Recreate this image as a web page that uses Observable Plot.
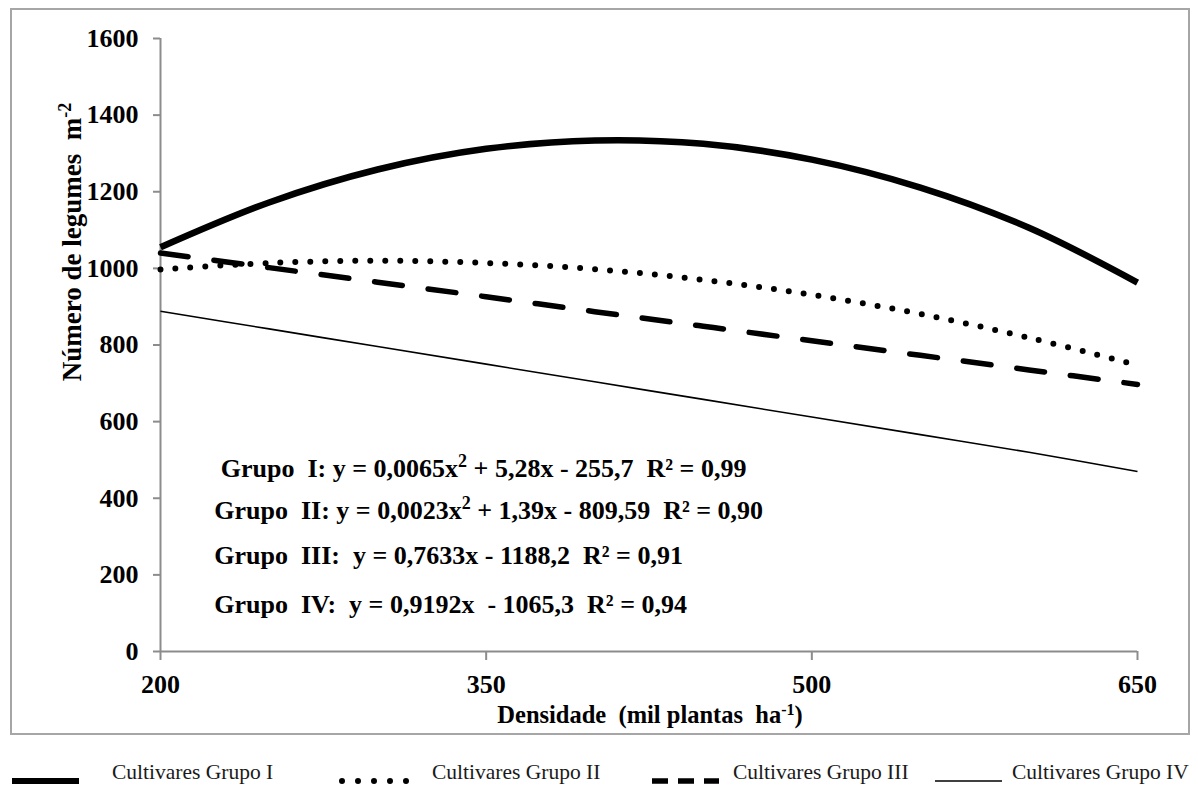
<!DOCTYPE html>
<html>
<head>
<meta charset="utf-8">
<script src="https://cdn.jsdelivr.net/npm/d3@7"></script>
<script src="https://cdn.jsdelivr.net/npm/@observablehq/plot@0.6"></script>
<style>
  html, body { margin: 0; padding: 0; background: #fff; }
  #wrap { position: relative; width: 1198px; height: 787px; overflow: hidden; }
  #box { position: absolute; left: 10px; top: 8px; width: 1176px; height: 723px; border: 2px solid #a6a6a6; }
  #chart { position: absolute; left: 0; top: 0; }
  #legend { position: absolute; left: 0; top: 735px; }
  svg text { font-family: "Liberation Serif", "Times New Roman", serif !important; }
</style>
</head>
<body>
<div id="wrap">
  <div id="box"></div>
  <div id="chart"></div>
  <svg id="legend" width="1198" height="52"></svg>
</div>
<script>
// ---- data ----
const densidade = [200, 250, 300, 350, 400, 450, 500, 550, 600, 650];
const grupoI   = [1055, 1172, 1258, 1312, 1334, 1325, 1284, 1211, 1106, 963];
const grupoII  = [997, 1014, 1020, 1014, 998, 970, 931, 881, 819, 747];
const grupoIII = [1040, 1002, 964, 926, 887, 849, 811, 773, 735, 697];
const grupoIV  = [888, 842, 796, 750, 704, 658, 612, 566, 520, 470];
const seriesNames = ["Cultivares Grupo I", "Cultivares Grupo II", "Cultivares Grupo III", "Cultivares Grupo IV"];
const xTicks = [200, 350, 500, 650];
const yTicks = [0, 200, 400, 600, 800, 1000, 1200, 1400, 1600];
const equations = [
  [["Grupo  I: y = 0,0065x"], ["2", "sup"], [" + 5,28x - 255,7  R² = 0,99"]],
  [["Grupo  II: y = 0,0023x"], ["2", "sup"], [" + 1,39x - 809,59  R² = 0,90"]],
  [["Grupo  III:  y = 0,7633x - 1188,2  R² = 0,91"]],
  [["Grupo  IV:  y = 0,9192x  - 1065,3  R² = 0,94"]]
];
const eqX = [228, 225, 225, 225];
const eqY = [478, 368, 250, 123];
const yTitle = [["Número de legumes  m"], ["-2", "sup"]];
const xTitle = [["Densidade  (mil plantas  ha"], ["-1", "sup"], [")"]];

const styles = [
  {strokeWidth: 6.5, strokeDasharray: null, strokeLinecap: "butt"},
  {strokeWidth: 6, strokeDasharray: "0 15", strokeLinecap: "round"},
  {strokeWidth: 5.5, strokeDasharray: "28 26", strokeLinecap: "round"},
  {strokeWidth: 1.6, strokeDasharray: null, strokeLinecap: "butt"}
];
const allSeries = [grupoI, grupoII, grupoIII, grupoIV];
const rows = [];
allSeries.forEach((s, k) => s.forEach((v, i) => rows.push({x: densidade[i], y: v, g: seriesNames[k]})));

const lineMarks = seriesNames.map((name, k) =>
  Plot.line(rows.filter(r => r.g === name), {
    x: "x", y: "y", stroke: "black", curve: "catmull-rom",
    strokeWidth: styles[k].strokeWidth,
    strokeDasharray: styles[k].strokeDasharray,
    strokeLinecap: styles[k].strokeLinecap
  })
);

const plot = Plot.plot({
  width: 1198,
  height: 735,
  marginLeft: 160,
  marginRight: 61,
  marginTop: 38,
  marginBottom: 84,
  style: {fontFamily: '"Liberation Serif", serif', fontSize: "26px", fontWeight: "bold", color: "black", background: "transparent"},
  x: {domain: [200, 650]},
  y: {domain: [0, 1600]},
  marks: [
    Plot.axisY({ticks: yTicks, tickSize: 7, tickPadding: 15, stroke: "#8c8c8c", strokeWidth: 2, fill: "black", label: null, tickFormat: d => String(d)}),
    Plot.axisX({ticks: xTicks, tickSize: 9, tickPadding: 14, stroke: "#8c8c8c", strokeWidth: 2, fill: "black", label: null, tickFormat: d => String(d)}),
    Plot.ruleX([200], {stroke: "#8c8c8c", strokeWidth: 2}),
    Plot.ruleY([0], {stroke: "#8c8c8c", strokeWidth: 2}),
    ...lineMarks
  ]
});
document.getElementById("chart").appendChild(plot);

const svg = d3.select(plot);
const sx = plot.scale("x"), sy = plot.scale("y");

function richText(sel, parts, supSize) {
  parts.forEach(p => {
    const t = sel.append("tspan").text(p[0]);
    if (p[1] === "sup") {
      t.attr("baseline-shift", "super").attr("font-size", supSize);
    }
  });
}

// equations
equations.forEach((parts, i) => {
  const t = svg.append("text")
    .attr("x", sx.apply(eqX[i]))
    .attr("y", sy.apply(eqY[i]))
    .attr("dy", "0.35em")
    .attr("text-anchor", "start")
    .attr("font-size", 26)
    .attr("font-weight", "bold")
    .attr("fill", "black")
    .style("white-space", "pre");
  richText(t, parts, 18);
});

// axis titles
const yt = svg.append("text")
  .attr("transform", "translate(81,242) rotate(-90)")
  .attr("text-anchor", "middle")
  .attr("font-size", 27).attr("font-weight", "bold").attr("fill", "black")
  .style("white-space", "pre");
richText(yt, yTitle, 18);

const xt = svg.append("text")
  .attr("x", 650).attr("y", 723)
  .attr("text-anchor", "middle")
  .attr("font-size", 24.5).attr("font-weight", "bold").attr("fill", "black")
  .style("white-space", "pre");
richText(xt, xTitle, 16);

// legend
const leg = d3.select("#legend");
const legSampleX = [12, 340, 652, 935];
const legTextX = [112, 432, 733, 1012];
const legY = 46;
seriesNames.forEach((name, k) => {
  const x0 = legSampleX[k];
  const st = styles[k];
  leg.append("line")
    .attr("x1", k === 1 ? x0 + 2 : x0).attr("x2", x0 + 67)
    .attr("y1", legY).attr("y2", legY)
    .attr("stroke", "black")
    .attr("stroke-width", k === 0 ? 6 : st.strokeWidth)
    .attr("stroke-dasharray", k === 1 ? "0 16" : (k === 2 ? "16 10" : null))
    .attr("stroke-linecap", k === 1 ? "round" : "butt");
  leg.append("text")
    .attr("x", legTextX[k]).attr("y", legY - 2)
    .attr("font-size", 21.5).attr("fill", "#1a1a1a")
    .style("white-space", "pre")
    .text(name);
});
</script>
</body>
</html>
